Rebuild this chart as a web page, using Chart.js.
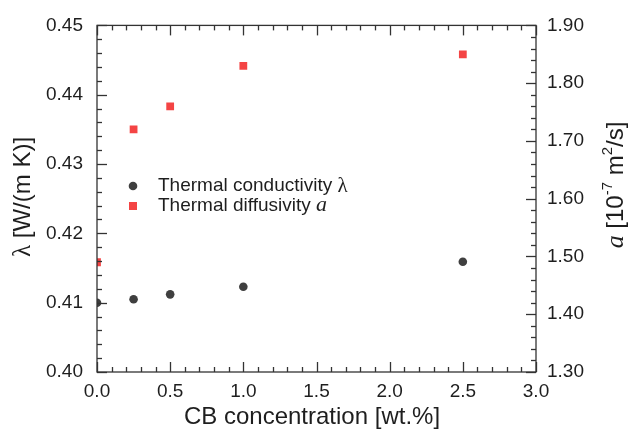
<!DOCTYPE html>
<html>
<head>
<meta charset="utf-8">
<script src="https://cdn.jsdelivr.net/npm/chart.js@4"></script>
<style>
  html, body { margin: 0; padding: 0; background: #fff; }
</style>
</head>
<body>
<canvas id="chart" width="632" height="439"></canvas>
<script>
// CB loading [wt.%] and the two measured properties
const cbConc       = [0, 0.25, 0.5, 1.0, 2.5];
const conductivity = [0.4100, 0.4105, 0.4112, 0.4123, 0.4159]; // W/(m K)
const diffusivity  = [1.49, 1.72, 1.76, 1.83, 1.85];           // 1e-7 m2/s

const xTickLabels     = ['0.0', '0.5', '1.0', '1.5', '2.0', '2.5', '3.0'];
const leftTickLabels  = ['0.40', '0.41', '0.42', '0.43', '0.44', '0.45'];
const rightTickLabels = ['1.30', '1.40', '1.50', '1.60', '1.70', '1.80', '1.90'];

const SANS  = "'Liberation Sans', Arial, sans-serif";
const SERIF = "'Liberation Serif', 'Times New Roman', serif";
const INK   = '#1e1e1e';
const DARK  = '#3f3f3f';
const RED   = '#f44444';

const fromLabels = labels => scale => {
  scale.ticks = labels.map(l => ({ value: parseFloat(l) }));
};
const labelOf = labels => (v, i) => labels[i];

// draw a run of mixed-font text centred on (0,0)
function drawRuns(ctx, runs) {
  let total = 0;
  runs.forEach(r => { ctx.font = r.font; r.w = ctx.measureText(r.text).width; total += r.w; });
  let x = -total / 2;
  runs.forEach(r => {
    ctx.font = r.font;
    ctx.fillText(r.text, x, r.dy || 0);
    x += r.w;
  });
}

// ── frame, inward ticks, titles, legend ───────────────────
const decorations = {
  id: 'decorations',
  afterDatasetsDraw(chart) {
    const { ctx, chartArea: a, scales } = chart;
    ctx.save();
    ctx.strokeStyle = '#333';
    ctx.lineWidth = 1.3;
    ctx.strokeRect(a.left, a.top, a.right - a.left, a.bottom - a.top);

    const seg = (x1, y1, x2, y2) => {
      ctx.beginPath(); ctx.moveTo(x1, y1); ctx.lineTo(x2, y2); ctx.stroke();
    };
    for (let i = 0; i <= 30; i++) {
      const px = Math.round(scales.x.getPixelForValue(i * 0.1)) + 0.5;
      const len = i % 5 === 0 ? 10 : 5;
      seg(px, a.bottom, px, a.bottom - len);
      seg(px, a.top, px, a.top + len);
    }
    for (let i = 0; i <= 25; i++) {
      const py = Math.round(scales.y.getPixelForValue(0.40 + i * 0.002)) + 0.5;
      seg(a.left, py, a.left + (i % 5 === 0 ? 10 : 5), py);
    }
    for (let i = 0; i <= 30; i++) {
      const py = Math.round(scales.y2.getPixelForValue(1.30 + i * 0.02)) + 0.5;
      seg(a.right, py, a.right - (i % 5 === 0 ? 10 : 5), py);
    }

    ctx.fillStyle = INK;
    ctx.textBaseline = 'middle';
    ctx.textAlign = 'left';

    // x title
    ctx.save();
    ctx.translate(312, 417);
    drawRuns(ctx, [{ text: 'CB concentration [wt.%]', font: '24px ' + SANS }]);
    ctx.restore();

    // left title
    ctx.save();
    ctx.translate(23, 197);
    ctx.rotate(-Math.PI / 2);
    drawRuns(ctx, [
      { text: 'λ', font: '25px ' + SERIF },
      { text: ' [W/(m K)]', font: '24px ' + SANS },
    ]);
    ctx.restore();

    // right title
    ctx.save();
    ctx.translate(616, 185);
    ctx.rotate(-Math.PI / 2);
    drawRuns(ctx, [
      { text: 'a', font: 'italic 26px ' + SERIF },
      { text: ' [10', font: '24px ' + SANS },
      { text: '-7', font: '15px ' + SANS, dy: -8 },
      { text: ' m', font: '24px ' + SANS },
      { text: '2', font: '15px ' + SANS, dy: -8 },
      { text: '/s]', font: '24px ' + SANS },
    ]);
    ctx.restore();

    // legend inside the plot
    const lx = a.left + 36, ly1 = 186, ly2 = 206, tx = a.left + 61;
    ctx.fillStyle = DARK;
    ctx.beginPath(); ctx.arc(lx, ly1, 4.3, 0, Math.PI * 2); ctx.fill();
    ctx.fillStyle = RED;
    ctx.fillRect(lx - 4, ly2 - 4, 8, 8);
    ctx.fillStyle = INK;
    ctx.font = '19px ' + SANS;
    ctx.fillText('Thermal conductivity ', tx, ly1);
    let w = ctx.measureText('Thermal conductivity ').width;
    ctx.font = '21px ' + SERIF;
    ctx.fillText('λ', tx + w, ly1);
    ctx.font = '19px ' + SANS;
    ctx.fillText('Thermal diffusivity ', tx, ly2);
    w = ctx.measureText('Thermal diffusivity ').width;
    ctx.font = 'italic 22px ' + SERIF;
    ctx.fillText('a', tx + w, ly2 - 1);

    ctx.restore();
  }
};

new Chart(document.getElementById('chart'), {
  type: 'scatter',
  data: {
    datasets: [
      {
        label: 'Thermal conductivity λ',
        data: cbConc.map((x, i) => ({ x, y: conductivity[i] })),
        yAxisID: 'y',
        pointStyle: 'circle',
        pointRadius: 4.3,
        pointHoverRadius: 4.3,
        pointBorderWidth: 0,
        backgroundColor: DARK,
        clip: 0,
      },
      {
        label: 'Thermal diffusivity a',
        data: cbConc.map((x, i) => ({ x, y: diffusivity[i] })),
        yAxisID: 'y2',
        pointStyle: 'rect',
        pointRadius: 5.5,
        pointHoverRadius: 5.5,
        pointBorderWidth: 0,
        backgroundColor: RED,
        clip: 0,
      }
    ]
  },
  options: {
    responsive: false,
    animation: false,
    layout: { padding: { top: 20, left: 0, right: 0, bottom: 0 } },
    plugins: { legend: { display: false }, tooltip: { enabled: false } },
    scales: {
      x: {
        type: 'linear', min: 0, max: 3,
        afterBuildTicks: fromLabels(xTickLabels),
        afterFit: s => { s.height = 67; },
        ticks: { callback: labelOf(xTickLabels), color: INK, font: { size: 19, family: SANS }, padding: 8, maxRotation: 0 },
        grid: { display: false, drawTicks: false },
        border: { display: false },
      },
      y: {
        type: 'linear', position: 'left', min: 0.40, max: 0.45,
        afterBuildTicks: fromLabels(leftTickLabels),
        afterFit: s => { s.width = 97; },
        ticks: { callback: labelOf(leftTickLabels), color: INK, font: { size: 19, family: SANS }, padding: 14 },
        grid: { display: false, drawTicks: false },
        border: { display: false },
      },
      y2: {
        type: 'linear', position: 'right', min: 1.30, max: 1.90,
        afterBuildTicks: fromLabels(rightTickLabels),
        afterFit: s => { s.width = 96; },
        ticks: { callback: labelOf(rightTickLabels), color: INK, font: { size: 19, family: SANS }, padding: 11 },
        grid: { display: false, drawTicks: false },
        border: { display: false },
      }
    }
  },
  plugins: [decorations]
});
</script>
</body>
</html>
